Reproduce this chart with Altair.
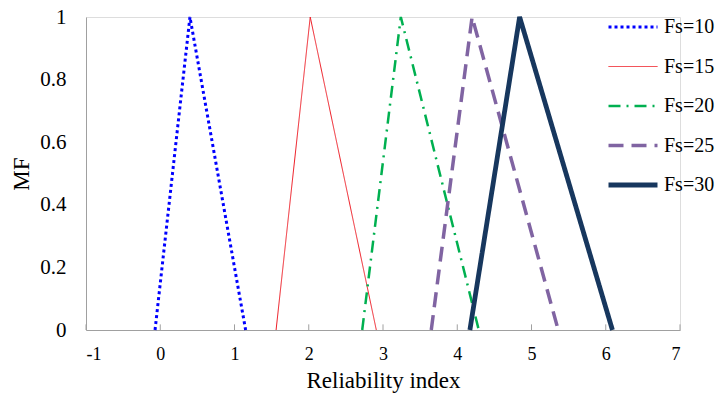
import altair as alt
import pandas as pd

series = ["Fs=10", "Fs=15", "Fs=20", "Fs=25", "Fs=30"]
x_start = [-0.07, 1.56, 2.72, 3.65, 4.17]
x_peak = [0.40, 2.02, 3.24, 4.20, 4.84]
x_end = [1.15, 2.91, 4.29, 5.36, 6.09]
mf_vals = [0, 1, 0]

colors = ["#0000FF", "#EE1C25", "#00B050", "#8064A2", "#17375E"]
dashes = [[3, 3], [1, 0], [12, 6, 2, 6], [15, 8], [1, 0]]
widths = [3, 1, 2.5, 3.5, 4.8]

x_ticks = [-1, 0, 1, 2, 3, 4, 5, 6, 7]
y_ticks = [0, 0.2, 0.4, 0.6, 0.8, 1]

rows = []
for i, s in enumerate(series):
    for j, xv in enumerate([x_start[i], x_peak[i], x_end[i]]):
        rows.append({"series": s, "x": xv, "mf": mf_vals[j], "order": j})
df = pd.DataFrame(rows)

font = "Liberation Serif"

xscale = alt.Scale(domain=[-1, 7], nice=False, zero=False)
yscale = alt.Scale(domain=[0, 1], nice=False)

lines = alt.Chart(df).mark_line(strokeCap="butt", strokeJoin="miter").encode(
    x=alt.X("x:Q", scale=xscale,
            axis=alt.Axis(values=x_ticks, title="Reliability index", tickSize=0,
                          labelFontSize=18, labelPadding=15, titleFontSize=23,
                          titlePadding=6, domainColor="#A0A0A0", grid=False,
                          labelFont=font, titleFont=font, titleFontWeight="normal",
                          labelColor="black", titleColor="black",
                          labelExpr="'' + datum.value")),
    y=alt.Y("mf:Q", scale=yscale,
            axis=alt.Axis(values=y_ticks, title="MF", tickSize=0, labelFontSize=21,
                          labelPadding=20, titleFontSize=23, titlePadding=6,
                          domainColor="#A0A0A0", grid=False, labelFont=font,
                          titleFont=font, titleFontWeight="normal",
                          labelColor="black", titleColor="black", format="~g")),
    color=alt.Color("series:N", scale=alt.Scale(domain=series, range=colors),
                    legend=alt.Legend(title=None, orient="none", legendX=520, legendY=0,
                                      symbolType="stroke", symbolSize=2400,
                                      labelFontSize=20, labelFont=font, labelColor="black",
                                      clipHeight=20, rowPadding=19.5, labelOffset=4)),
    strokeDash=alt.StrokeDash("series:N", scale=alt.Scale(domain=series, range=dashes),
                              legend=None),
    strokeWidth=alt.StrokeWidth("series:N",
                                scale=alt.Scale(type="ordinal", domain=series, range=widths),
                                legend=None),
    order="order:O",
    detail="series:N",
)

ticks_df = pd.DataFrame({"t": x_ticks, "y0": [0] * len(x_ticks), "y1": [0.018] * len(x_ticks)})
ticks = alt.Chart(ticks_df).mark_rule(color="#A0A0A0", strokeWidth=1).encode(
    x=alt.X("t:Q", scale=xscale),
    y=alt.Y("y0:Q", scale=yscale),
    y2="y1:Q",
)

chart = alt.layer(ticks, lines).properties(
    width=594, height=313,
    autosize=alt.AutoSizeParams(type="none"),
    padding={"left": 86, "top": 17, "right": 38, "bottom": 69},
).configure_view(stroke=None).configure(background="white")

chart.save("out.html", embed_options={"renderer": "svg", "actions": False})
